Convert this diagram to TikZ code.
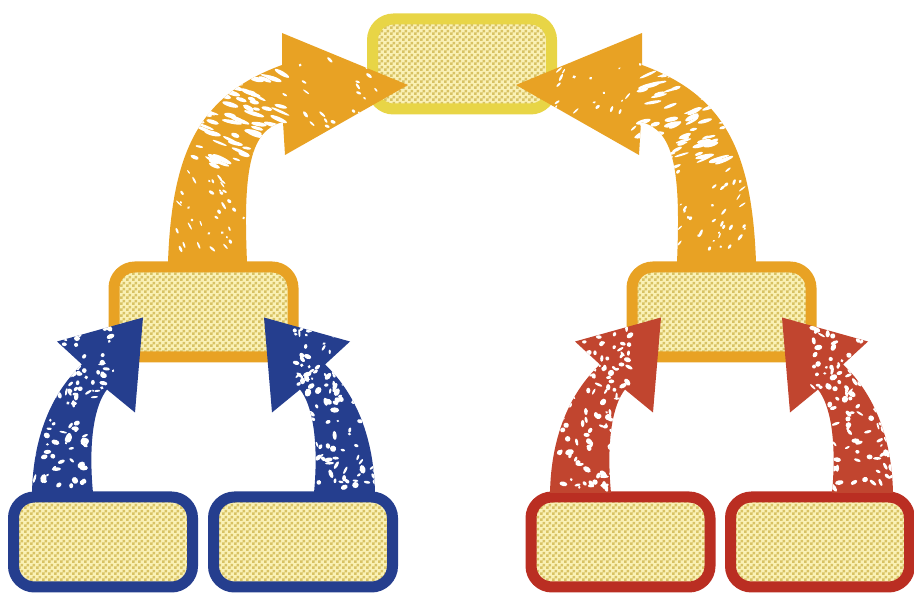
\documentclass[tikz,border=0pt]{standalone}
\usetikzlibrary{patterns}
\pgfdeclarepatternformonly{checks}{\pgfpointorigin}{\pgfqpoint{6pt}{6pt}}{\pgfqpoint{6pt}{6pt}}{%
  \pgfpathrectangle{\pgfpointorigin}{\pgfqpoint{3pt}{3pt}}%
  \pgfpathrectangle{\pgfqpoint{3pt}{3pt}}{\pgfqpoint{3pt}{3pt}}%
  \pgfusepath{fill}}
\definecolor{cyel}{HTML}{E8D546}
\definecolor{corange}{HTML}{E8A224}
\definecolor{cblue}{HTML}{253E8E}
\definecolor{credbox}{HTML}{BA2E22}
\definecolor{credarrow}{HTML}{C1452F}
\definecolor{ccream}{HTML}{FAF1B6}
\definecolor{ckhaki}{HTML}{D8C264}
\tikzset{
  box/.style={draw=#1, line width=11pt, rounded corners=21pt,
    minimum width=179pt, minimum height=90pt, inner sep=0pt,
    preaction={fill=ccream}, pattern=checks, pattern color=ckhaki}
}
% small arrow, relative to the centre of its target box
\newcommand\smallArrowPath{(-171.5,181) .. controls (-170.5,127.5) and (-153.5,82.5) .. (-121.5,52.5)
  -- (-146.5,29.5) -- (-60.5,5.5) -- (-68.5,100.5) -- (-96.5,77.5)
  .. controls (-108.5,92.5) and (-115.5,127.5) .. (-110.5,181) -- cycle}
% big arrow, relative to the centre of the top box
\newcommand\bigArrowPath{(-294,198) .. controls (-290,86) and (-262,31) .. (-180,1)
  -- (-180,-31) -- (-54,21) -- (-177,91) -- (-179,58)
  .. controls (-212,66) and (-219,106) .. (-215,198) -- cycle}
\newcommand\blobs[1]{%
  \pgfmathsetseed{#1}%
  \foreach \i in {1,...,95}{%
    \pgfmathsetmacro\px{-174+80*rnd}%
    \pgfmathsetmacro\py{55+122*rnd}%
    \pgfmathsetmacro\ra{1.2+3.4*rnd}%
    \pgfmathsetmacro\rb{1+2.2*rnd}%
    \pgfmathsetmacro\ang{360*rnd}%
    \fill[white,shift={(\px,\py)},rotate=\ang] (0,0) ellipse [x radius=\ra pt, y radius=\rb pt];}%
  \foreach \i in {1,...,35}{%
    \pgfmathsetmacro\px{-140+50*rnd}%
    \pgfmathsetmacro\py{15+65*rnd}%
    \pgfmathsetmacro\ra{1.2+3*rnd}%
    \pgfmathsetmacro\rb{1+2*rnd}%
    \pgfmathsetmacro\ang{360*rnd}%
    \fill[white,shift={(\px,\py)},rotate=\ang] (0,0) ellipse [x radius=\ra pt, y radius=\rb pt];}%
}
\newcommand\streaks[1]{%
  \pgfmathsetseed{#1}%
  \foreach \i in {1,...,75}{%
    \pgfmathsetmacro\px{-268+88*rnd}%
    \pgfmathsetmacro\py{8+95*rnd}%
    \pgfmathsetmacro\ra{3.5+7*rnd}%
    \pgfmathsetmacro\rb{1+1.5*rnd}%
    \pgfmathsetmacro\ang{-8-22*rnd}%
    \fill[white,shift={(\px,\py)},rotate=\ang] (0,0) ellipse [x radius=\ra pt, y radius=\rb pt];}%
  \foreach \i in {1,...,35}{%
    \pgfmathsetmacro\px{-285+70*rnd}%
    \pgfmathsetmacro\py{105+80*rnd}%
    \pgfmathsetmacro\ra{1.2+3*rnd}%
    \pgfmathsetmacro\rb{0.7+1*rnd}%
    \pgfmathsetmacro\ang{-30-40*rnd}%
    \fill[white,shift={(\px,\py)},rotate=\ang] (0,0) ellipse [x radius=\ra pt, y radius=\rb pt];}%
  \foreach \i in {1,...,22}{%
    \pgfmathsetmacro\px{-180+95*rnd}%
    \pgfmathsetmacro\py{-5+70*rnd}%
    \pgfmathsetmacro\ra{1.2+3*rnd}%
    \pgfmathsetmacro\rb{0.7+1*rnd}%
    \pgfmathsetmacro\ang{-20-50*rnd}%
    \fill[white,shift={(\px,\py)},rotate=\ang] (0,0) ellipse [x radius=\ra pt, y radius=\rb pt];}%
}
\begin{document}
\begin{tikzpicture}[x=1pt,y=-1pt]
\useasboundingbox (0,0) rectangle (914,593);
% boxes
\node[box=cyel]    (top) at (462,64)    {};
\node[box=corange] (ml)  at (203.5,312) {};
\node[box=corange] (mr)  at (721.5,312) {};
\node[box=cblue]   (b1)  at (103,542)   {};
\node[box=cblue]   (b2)  at (303,542)   {};
\node[box=credbox] (r1)  at (620.5,542) {};
\node[box=credbox] (r2)  at (820,542)   {};
% big orange arrows
\begin{scope}[shift={(top.center)}]
  \fill[corange] \bigArrowPath;
  \begin{scope}\clip \bigArrowPath; \streaks{5}\end{scope}
\end{scope}
\begin{scope}[shift={(top.center)},xscale=-1]
  \fill[corange] \bigArrowPath;
  \begin{scope}\clip \bigArrowPath; \streaks{9}\end{scope}
\end{scope}
% blue arrows
\begin{scope}[shift={(ml.center)}]
  \fill[cblue] \smallArrowPath;
  \begin{scope}\clip \smallArrowPath; \blobs{11}\end{scope}
\end{scope}
\begin{scope}[shift={(ml.center)},xscale=-1]
  \fill[cblue] \smallArrowPath;
  \begin{scope}\clip \smallArrowPath; \blobs{23}\end{scope}
\end{scope}
% red arrows
\begin{scope}[shift={(mr.center)}]
  \fill[credarrow] \smallArrowPath;
  \begin{scope}\clip \smallArrowPath; \blobs{37}\end{scope}
\end{scope}
\begin{scope}[shift={(mr.center)},xscale=-1]
  \fill[credarrow] \smallArrowPath;
  \begin{scope}\clip \smallArrowPath; \blobs{41}\end{scope}
\end{scope}
\end{tikzpicture}
\end{document}
